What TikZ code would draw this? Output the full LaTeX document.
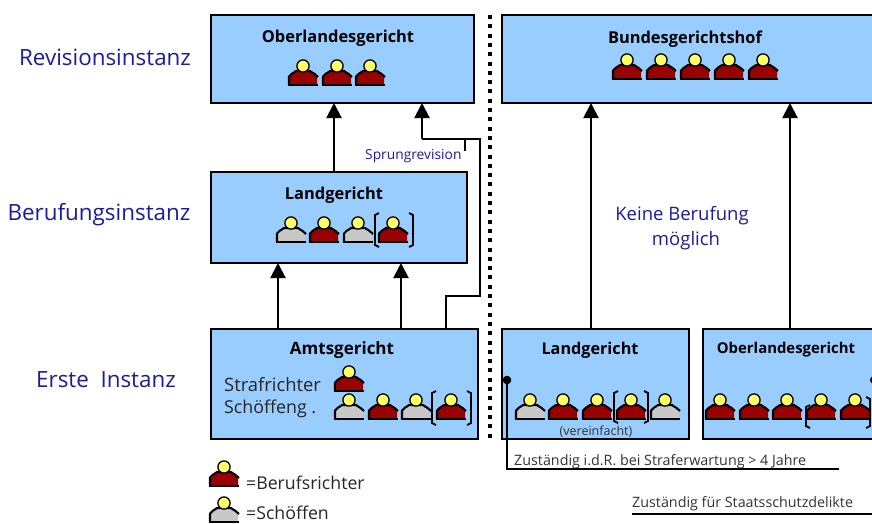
\documentclass[tikz,border=0pt]{standalone}
\usepackage{fontspec}
\setmainfont{Open Sans}
\usetikzlibrary{arrows.meta}
\definecolor{boxblue}{HTML}{99CCFF}
\definecolor{inkblue}{HTML}{1C1CA0}
\definecolor{judgered}{HTML}{990000}
\definecolor{laygray}{HTML}{C8C8C8}
\definecolor{headyellow}{HTML}{FFFF66}
\tikzset{
  x=1pt,y=-1pt,
  court/.style={draw=black,line width=1.5pt,fill=boxblue,anchor=north west,inner sep=0pt,outer sep=0pt},
  arr/.style={line width=2pt,-{Triangle[length=15pt,width=15pt]}},
  conn/.style={line width=1.7pt},
  title/.style={font=\fontsize{16.4}{18}\selectfont\bfseries,inner sep=0pt},
  inst/.style={font=\fontsize{22.4}{24}\selectfont,text=inkblue,inner sep=0pt},
  note/.style={font=\fontsize{18}{20}\selectfont,text=black!85,inner sep=0pt,anchor=west},
  small/.style={font=\fontsize{14.3}{16}\selectfont,text=black!80,inner sep=0pt,anchor=west},
  brk/.style={line width=1.8pt},
  pics/judge/.style={code={
    \path[fill=#1] (-14,0) -- (-14,-9) -- (-7,-14) -- (7,-14) -- (14,-9) -- (14,0) -- cycle;
    \draw[line width=2.1pt,line join=round] (-14,0) -- (-14,-8.5) .. controls (-13,-11) and (-10,-11.5) .. (-7,-14) -- (7,-14) .. controls (10,-11.5) and (13,-11) .. (15,-8);
    \draw[line width=2.1pt] (-15,0) -- (15,0);
    \draw[line width=1.3pt,fill=headyellow] (0,-19) circle[radius=6.1];
  }}
}
\newcommand{\Rt}[2]{\pic at (#1,#2) {judge=judgered};}
\newcommand{\Sf}[2]{\pic at (#1,#2) {judge=laygray};}
\newcommand{\Lbr}[3]{\draw[brk] (#1+4,#2) -- (#1,#2+2) -- (#1,#3-2) -- (#1+4,#3);}
\newcommand{\Rbr}[3]{\draw[brk] (#1-4,#2) -- (#1,#2+2) -- (#1,#3-2) -- (#1-4,#3);}
\begin{document}
\begin{tikzpicture}
\useasboundingbox (0,0) rectangle (872,523);
\fill[white] (0,0) rectangle (872,523);
\begin{scope}
\clip (0,0) rectangle (872,523);
% court boxes
\node[court,minimum width=263pt,minimum height=88pt] (olg) at (211,15) {};
\node[court,minimum width=380pt,minimum height=88pt] (bgh) at (502,15) {};
\node[court,minimum width=256pt,minimum height=91pt] (lg) at (211,172) {};
\node[court,minimum width=267pt,minimum height=110pt] (ag) at (211,329) {};
\node[court,minimum width=187pt,minimum height=110pt] (lgb) at (502,329) {};
\node[court,minimum width=180pt,minimum height=110pt] (olgb) at (703,329) {};
% titles
\node[title] (t1) at (338,38.5) {Oberlandesgericht};
\node[title] (t2) at (685,39.5) {Bundesgerichtshof};
\node[title] (t3) at (334,195.5) {Landgericht};
\node[title,font=\fontsize{17}{19}\selectfont\bfseries] (t4) at (342,350.5) {Amtsgericht};
\node[title,font=\fontsize{16.2}{18}\selectfont\bfseries] (t5) at (590,350.5) {Landgericht};
\node[title,font=\fontsize{14.9}{17}\selectfont\bfseries] (t6) at (786,350) {Oberlandesgericht};
% instance labels
\node[inst] (i1) at (105,57) {Revisionsinstanz};
\node[inst] (i2) at (99,214.5) {Berufungsinstanz};
\node[inst] (i3) at (106,380) {Erste\ \ Instanz};
% notes
\node[note,text=inkblue,font=\fontsize{18.5}{20}\selectfont,anchor=center] (kb) at (682,216) {Keine Berufung};
\node[note,text=inkblue,font=\fontsize{18.5}{20}\selectfont,anchor=center] (kb2) at (686,241) {möglich};
\node[small,text=inkblue,font=\fontsize{13.8}{16}\selectfont] (sr) at (365,156.5) {Sprungrevision};
\node[note,font=\fontsize{18.4}{20}\selectfont] (st) at (224,385) {Strafrichter};
\node[note,font=\fontsize{17.8}{20}\selectfont] (sg) at (224,409) {Schöffeng .};
\node[small,anchor=center,font=\fontsize{12.5}{14}\selectfont] (ve) at (596,432) {(vereinfacht)};
\node[small] (z1) at (514,462) {Zuständig i.d.R. bei Straferwartung > 4 Jahre};
\node[small] (z2) at (632,504) {Zuständig für Staatsschutzdelikte};
\node[note,font=\fontsize{17.7}{20}\selectfont] (l1) at (246,483) {=Berufsrichter};
\node[note,font=\fontsize{17.7}{20}\selectfont] (l2) at (246,513) {=Schöffen};
% free ends on the boxes
\coordinate (a1) at (334,172); \coordinate (a1e) at (334,103);
\coordinate (a2) at (278,329); \coordinate (a2e) at (278,263);
\coordinate (a3) at (401,329); \coordinate (a3e) at (401,263);
\coordinate (a4) at (446,329); \coordinate (a4e) at (422,103);
\coordinate (a5) at (591,329); \coordinate (a5e) at (591,103);
\coordinate (a6) at (790,329); \coordinate (a6e) at (790,103);
\coordinate (d1) at (507,380); \coordinate (d2) at (507,469); \coordinate (d3) at (839,469);
\coordinate (u1) at (632,514); \coordinate (u2) at (872,514);
\coordinate (tk1) at (465,139); \coordinate (tk2) at (465,151);
\coordinate (v1) at (490,15); \coordinate (v2) at (490,439);
% connectors
\draw[arr] (a1) -- (a1e);
\draw[arr] (a2) -- (a2e);
\draw[arr] (a3) -- (a3e);
\draw[arr] (a5) -- (a5e);
\draw[arr] (a6) -- (a6e);
\draw[conn] (a4) -- (446,296) -- (480,296) -- (480,139) -- (422,139);
\draw[arr] (422,139) -- (a4e);
\draw[conn] (tk1) -- (tk2);
\draw[line width=4pt,dash pattern=on 4pt off 5.3pt] (v1) -- (v2);
\draw[conn] (d1) -- (d2) -- (d3);
\fill (d1) circle[radius=4.3];
\draw[conn] (u1) -- (u2);
% persons
\Rt{303}{85}\Rt{337}{85}\Rt{370}{85}
\Rt{627}{79}\Rt{661}{79}\Rt{695}{79}\Rt{729}{79}\Rt{763}{79}
\Sf{291}{242}\Rt{324}{242}\Sf{358}{242}\Rt{393}{242}
\Lbr{375}{213}{247}\Rbr{413}{213}{247}
\Rt{349}{391}
\Sf{349}{419}\Rt{383}{419}\Sf{416}{419}\Rt{451}{419}
\Lbr{432}{391}{425}\Rbr{471}{391}{425}
\Sf{530}{419}\Rt{563}{419}\Rt{597}{419}\Rt{631}{419}\Sf{665}{419}
\Lbr{614}{391}{423}\Rbr{648}{391}{423}
\Rt{720}{419}\Rt{754}{419}\Rt{787}{419}\Rt{821}{419}\Rt{855}{419}
\Lbr{806}{405}{428}\Rbr{870}{397}{428}
\fill (874,380) circle[radius=4];
\Rt{224}{486}
\Sf{224}{522}
\end{scope}
\end{tikzpicture}
\end{document}
